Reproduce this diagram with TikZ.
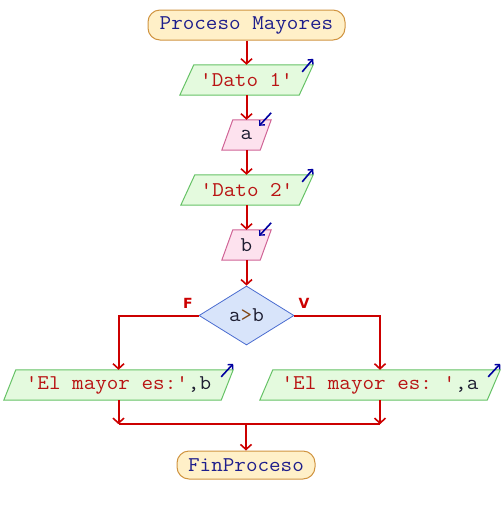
\documentclass[tikz,border=0pt]{standalone}
\usepackage{fontspec}
\setmonofont[FakeStretch=1.07]{Latin Modern Mono}
\newfontfamily\lblfont{DejaVu Sans}
\usetikzlibrary{shapes.geometric,arrows.meta,backgrounds,calc}
\definecolor{termfill}{RGB}{255,240,200}
\definecolor{termdraw}{RGB}{208,148,64}
\definecolor{outfill}{RGB}{228,250,222}
\definecolor{outdraw}{RGB}{102,194,102}
\definecolor{infill}{RGB}{253,226,238}
\definecolor{indraw}{RGB}{208,100,150}
\definecolor{decfill}{RGB}{216,228,250}
\definecolor{decdraw}{RGB}{74,108,208}
\definecolor{flow}{RGB}{204,0,0}
\definecolor{strcol}{RGB}{185,20,20}
\definecolor{kwcol}{RGB}{30,30,140}
\definecolor{varcol}{RGB}{30,30,50}
\definecolor{opcol}{RGB}{128,70,20}
\definecolor{ioarrow}{RGB}{0,0,160}
\tikzset{
  txt/.style={font=\ttfamily\fontsize{21}{22}\selectfont, inner sep=0pt},
  term/.style={txt, text=kwcol, draw=termdraw, fill=termfill, line width=1pt, rounded corners=12pt, minimum height=30pt},
  iobox/.style={txt, minimum height=30pt},
  dec/.style={txt, diamond, draw=decdraw, fill=decfill, line width=0.8pt, minimum width=95pt, minimum height=59pt, inner sep=0pt},
  flowline/.style={draw=flow, line width=2pt, -{Straight Barb[length=5pt,width=11pt,line width=1.6pt]}},
  flowplain/.style={draw=flow, line width=2pt},
  outpar/.style={draw=outdraw, fill=outfill, line width=1pt},
  inpar/.style={draw=indraw, fill=infill, line width=1pt},
  blue/.style={draw=ioarrow, line width=1.6pt, -{Straight Barb[length=3.5pt,width=7pt,line width=1.4pt]}},
  lbl/.style={font=\lblfont\bfseries\fontsize{14}{14}\selectfont, text=flow, inner sep=0pt}
}
\begin{document}
\begin{tikzpicture}[x=1pt,y=-1pt]
\useasboundingbox (0,0) rectangle (504,515);
% nodes
\node[term, minimum width=197pt] (start) at (246.5,25) {Proceso Mayores};
\node[iobox, minimum width=133pt] (d1) at (246.5,80) {\textcolor{strcol}{'Dato 1'}};
\node[iobox, minimum width=49pt] (a) at (246.5,135) {\textcolor{varcol}{a}};
\node[iobox, minimum width=132pt] (d2) at (247,190) {\textcolor{strcol}{'Dato 2'}};
\node[iobox, minimum width=49pt] (b) at (246.5,245) {\textcolor{varcol}{b}};
\node[dec] (c) at (246.5,315.5) {\textcolor{varcol}{a}\textcolor{opcol}{>}\textcolor{varcol}{b}};
\node[iobox, minimum width=229pt] (ol) at (118.5,385) {\textcolor{strcol}{'El mayor es:'}\textcolor{varcol}{,b}};
\node[iobox, minimum width=240pt] (or) at (380,385) {\textcolor{strcol}{'El mayor es: '}\textcolor{varcol}{,a}};
\node[term, minimum width=138pt, minimum height=28pt] (fin) at (246,465) {FinProceso};
% parallelogram outlines
\begin{scope}[on background layer]
\draw[outpar] (d1.south west) -- ([xshift=14pt]d1.north west) -- (d1.north east) -- ([xshift=-14pt]d1.south east) -- cycle;
\draw[outpar] (d2.south west) -- ([xshift=14pt]d2.north west) -- (d2.north east) -- ([xshift=-14pt]d2.south east) -- cycle;
\draw[inpar] (a.south west) -- ([xshift=11pt]a.north west) -- (a.north east) -- ([xshift=-11pt]a.south east) -- cycle;
\draw[inpar] (b.south west) -- ([xshift=11pt]b.north west) -- (b.north east) -- ([xshift=-11pt]b.south east) -- cycle;
\draw[outpar] (ol.south west) -- ([xshift=12pt]ol.north west) -- (ol.north east) -- ([xshift=-12pt]ol.south east) -- cycle;
\draw[outpar] (or.south west) -- ([xshift=13pt]or.north west) -- (or.north east) -- ([xshift=-13pt]or.south east) -- cycle;
\end{scope}
% blue io arrows
\draw[blue] ([shift={(-11,7)}]d1.north east) -- ([shift={(0,-6)}]d1.north east);
\draw[blue] ([shift={(-11,7)}]d2.north east) -- ([shift={(0,-6)}]d2.north east);
\draw[blue] ([shift={(0,-7)}]a.north east) -- ([shift={(-12,6)}]a.north east);
\draw[blue] ([shift={(0,-7)}]b.north east) -- ([shift={(-12,6)}]b.north east);
\draw[blue] ([shift={(-12,7)}]ol.north east) -- ([shift={(0,-6)}]ol.north east);
\draw[blue] ([shift={(-12,7)}]or.north east) -- ([shift={(0,-6)}]or.north east);
% flow
\draw[flowline] (start.south) -- (start.south |- d1.north);
\draw[flowline] (d1.south -| start.south) -- (start.south |- a.north);
\draw[flowline] (a.south -| start.south) -- (start.south |- d2.north);
\draw[flowline] (d2.south -| start.south) -- (start.south |- b.north);
\draw[flowline] (b.south -| start.south) -- (c.north);
\draw[flowline] (c.west) -| (ol.north);
\draw[flowline] (c.east) -| (or.north);
\coordinate (jl) at ($(ol.south)+(0,24)$);
\coordinate (jr) at (or.south |- jl);
\coordinate (jm) at (fin.north |- jl);
\draw[flowline] (ol.south) -- (jl);
\draw[flowline] (or.south) -- (jr);
\draw[flowplain] (jl) -- (jr);
\draw[flowline] (jm) -- (fin.north);
% labels
\node[lbl] (lf) at (188,303) {F};
\node[lbl] (lv) at (304,303) {V};
\end{tikzpicture}
\end{document}
